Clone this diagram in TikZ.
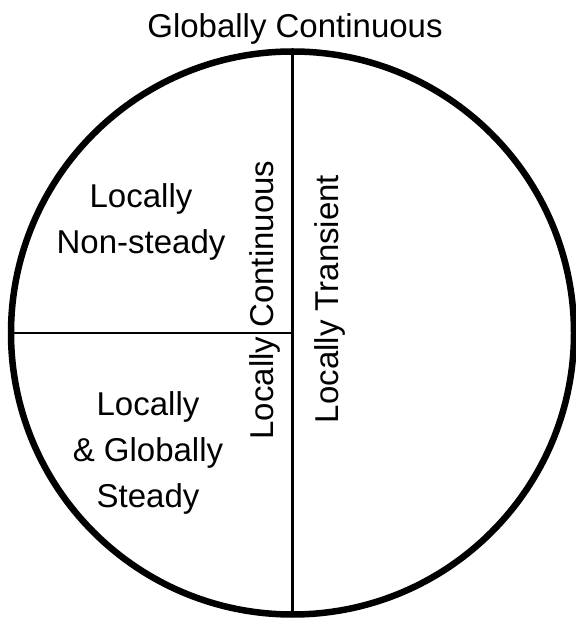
\documentclass[tikz,border=0pt]{standalone}
\usepackage{fontspec}
\setmainfont{Liberation Sans}
\begin{document}
\begin{tikzpicture}[x=1pt, y=1pt, label text/.style={font=\fontsize{33}{46}\selectfont, inner sep=0pt, align=center}, region/.style={circle,draw,minimum size=563pt,inner sep=0pt,outer sep=0pt,line width=6.5pt}]
\useasboundingbox (0,0) rectangle (576,619);
\node[region] (disc) at (292.5,286) {};
\begin{scope}[every node/.style={label text}]
\node[anchor=base] (glob) at (295,581) {Globally Continuous};
\node (nonsteady) at (141,397.5) {Locally\\Non-steady};
\node (steady) at (148,166.5) {Locally\\\& Globally\\Steady};
\node[rotate=90,anchor=base] (loccont) at (273,319) {Locally Continuous};
\node[rotate=90,anchor=base] (loctrans) at (338,320) {Locally Transient};
\end{scope}
\draw[line width=3.5pt] (disc.north) -- (disc.south);
\draw[line width=2pt] (disc.west) -- (disc.center);
\end{tikzpicture}
\end{document}
